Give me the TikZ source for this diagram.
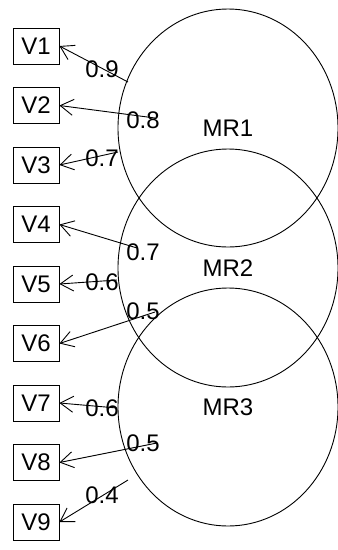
\documentclass[tikz,border=0pt]{standalone}
\usepackage{fontspec}
\setmainfont{Liberation Sans}
\usepackage{tikz}
\usetikzlibrary{arrows.meta}
\usetikzlibrary{positioning}
\usetikzlibrary{shapes.geometric}

\begin{document}
\begin{tikzpicture}[x=1pt, y=-1pt, line width=0.9pt, node distance=22.6pt,
        font=\fontsize{24}{28}\selectfont,
        varbox/.style={rectangle, draw=black, minimum width=46pt, minimum height=36pt, inner sep=0pt},
        factornode/.style={ellipse, draw=black, minimum width=220pt, minimum height=238pt, inner sep=0pt},
        loadlabel/.style={inner sep=0pt},
        loadarrow/.style={-{Straight Barb[length=13pt, width=16pt]}}]
        \useasboundingbox (0,0) rectangle (338,550);

        \node[factornode] (mr1) at (228,128) {MR1};
        \node[factornode] (mr2) at (228,268) {MR2};
        \node[factornode] (mr3) at (228,407) {MR3};

        \node[varbox] (v1) at (36,46) {V1};
        \node[varbox] (v2) [below=of v1] {V2};
        \node[varbox] (v3) [below=of v2] {V3};
        \node[varbox] (v4) [below=of v3] {V4};
        \node[varbox] (v5) [below=of v4] {V5};
        \node[varbox] (v6) [below=of v5] {V6};
        \node[varbox] (v7) [below=of v6] {V7};
        \node[varbox] (v8) [below=of v7] {V8};
        \node[varbox] (v9) [below=of v8] {V9};

        \coordinate (s1) at (128,82);
        \coordinate (s2) at (155,118);
        \coordinate (s3) at (118,152);
        \coordinate (s4) at (137,248);
        \coordinate (s5) at (117,280);
        \coordinate (s6) at (155,312);
        \coordinate (s7) at (117,408);
        \coordinate (s8) at (157,443);
        \coordinate (s9) at (128,480);

        \draw[loadarrow] (s1) -- (v1.east);
        \draw[loadarrow] (s2) -- (v2.east);
        \draw[loadarrow] (s3) -- (v3.east);
        \draw[loadarrow] (s4) -- (v4.east);
        \draw[loadarrow] (s5) -- (v5.east);
        \draw[loadarrow] (s6) -- (v6.east);
        \draw[loadarrow] (s7) -- (v7.east);
        \draw[loadarrow] (s8) -- (v8.east);
        \draw[loadarrow] (s9) -- (v9.east);

        \node[loadlabel] (l1) at (102,69) {0.9};
        \node[loadlabel] (l2) at (143,120) {0.8};
        \node[loadlabel] (l3) at (102,158) {0.7};
        \node[loadlabel] (l4) at (143,252) {0.7};
        \node[loadlabel] (l5) at (102,282) {0.6};
        \node[loadlabel] (l6) at (143,311) {0.5};
        \node[loadlabel] (l7) at (102,408) {0.6};
        \node[loadlabel] (l8) at (143,443) {0.5};
        \node[loadlabel] (l9) at (102,495) {0.4};
    \end{tikzpicture}
\end{document}
